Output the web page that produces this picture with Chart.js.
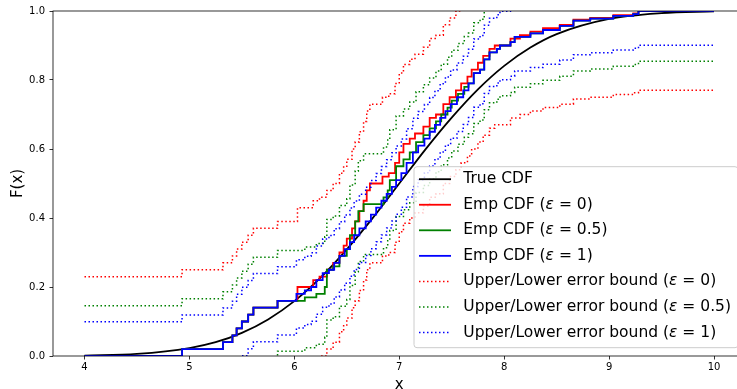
<!DOCTYPE html>
<html>
<head>
<meta charset="utf-8">
<title>Empirical CDF with error bounds</title>
<script src="https://cdn.jsdelivr.net/npm/chart.js"></script>
<style>
    html, body { margin: 0; padding: 0; overflow: hidden; background: #fff; }
    .chartBox { position: absolute; left: 0; top: 0; width: 760px; height: 400px; }
</style>
</head>
<body>
<div class="chartBox"><canvas id="cdfChart"></canvas></div>

<script type="text/javascript" charset="utf-8">

    var FONT = '"DejaVu Sans", "Liberation Sans", sans-serif';

    // axis ticks
    var xTicks = [4, 5, 6, 7, 8, 9, 10];
    var yTicks = [0, 0.2, 0.4, 0.6, 0.8, 1.0];

    // true CDF
    var trueX = [4, 4.5, 5, 5.25, 5.5, 5.75, 6, 6.25, 6.5, 6.75, 7, 7.25, 7.5, 7.75, 8, 8.25, 8.5, 9, 9.5, 10];
    var trueY = [0.001, 0.006, 0.023, 0.040, 0.067, 0.106, 0.159, 0.227, 0.309, 0.401, 0.5, 0.599, 0.691, 0.773, 0.841, 0.894, 0.933, 0.977, 0.994, 0.999];

    // empirical CDFs: x of each jump and level right after it
    var emp0X = [4, 4.93, 5.32, 5.41, 5.45, 5.50, 5.56, 5.61, 5.84, 6.03, 6.18, 6.24, 6.31, 6.37, 6.43, 6.47, 6.50, 6.55, 6.58, 6.62, 6.66, 6.69, 6.72, 6.84, 6.90, 6.96, 7.00, 7.04, 7.10, 7.15, 7.23, 7.29, 7.35, 7.42, 7.48, 7.54, 7.59, 7.65, 7.69, 7.75, 7.80, 7.86, 7.91, 8.06, 8.15, 8.25, 8.37, 8.53, 8.66, 8.82, 9.04, 9.23, 9.28, 10];
    var emp0Y = [0, 0.02, 0.04, 0.06, 0.08, 0.10, 0.12, 0.14, 0.16, 0.20, 0.22, 0.23, 0.25, 0.27, 0.30, 0.32, 0.34, 0.37, 0.39, 0.42, 0.45, 0.48, 0.50, 0.52, 0.53, 0.56, 0.59, 0.615, 0.63, 0.645, 0.665, 0.69, 0.70, 0.73, 0.75, 0.77, 0.79, 0.81, 0.83, 0.85, 0.87, 0.89, 0.90, 0.92, 0.93, 0.94, 0.95, 0.96, 0.975, 0.98, 0.988, 0.993, 1.0, 1.0];

    var emp05X = [4, 4.93, 5.32, 5.41, 5.45, 5.50, 5.56, 5.61, 5.84, 6.10, 6.21, 6.29, 6.31, 6.37, 6.43, 6.50, 6.53, 6.58, 6.61, 6.66, 6.85, 6.89, 6.91, 6.97, 7.04, 7.10, 7.16, 7.23, 7.29, 7.35, 7.40, 7.46, 7.50, 7.56, 7.62, 7.66, 7.71, 7.77, 7.81, 7.86, 7.93, 7.96, 8.06, 8.10, 8.25, 8.37, 8.53, 8.66, 8.82, 9.04, 9.23, 9.28, 10];
    var emp05Y = [0, 0.02, 0.04, 0.06, 0.08, 0.10, 0.12, 0.14, 0.16, 0.17, 0.18, 0.20, 0.25, 0.26, 0.29, 0.31, 0.35, 0.39, 0.42, 0.44, 0.46, 0.48, 0.51, 0.55, 0.57, 0.59, 0.62, 0.64, 0.66, 0.68, 0.70, 0.72, 0.74, 0.76, 0.78, 0.79, 0.82, 0.83, 0.86, 0.88, 0.89, 0.90, 0.91, 0.925, 0.935, 0.945, 0.957, 0.972, 0.978, 0.986, 0.991, 1.0, 1.0];

    var emp1X = [4, 4.93, 5.32, 5.41, 5.45, 5.50, 5.56, 5.61, 5.84, 6.02, 6.10, 6.16, 6.21, 6.27, 6.33, 6.38, 6.43, 6.48, 6.53, 6.57, 6.62, 6.68, 6.73, 6.78, 6.83, 6.88, 6.93, 6.97, 7.02, 7.07, 7.13, 7.18, 7.24, 7.29, 7.34, 7.39, 7.44, 7.49, 7.55, 7.61, 7.66, 7.71, 7.77, 7.81, 7.86, 7.93, 7.96, 8.06, 8.10, 8.25, 8.37, 8.53, 8.66, 8.82, 9.04, 9.23, 9.28, 10];
    var emp1Y = [0, 0.02, 0.04, 0.06, 0.08, 0.10, 0.12, 0.14, 0.16, 0.18, 0.19, 0.20, 0.22, 0.24, 0.25, 0.27, 0.29, 0.31, 0.33, 0.35, 0.37, 0.39, 0.41, 0.43, 0.45, 0.47, 0.49, 0.51, 0.53, 0.56, 0.59, 0.61, 0.63, 0.65, 0.67, 0.69, 0.71, 0.73, 0.75, 0.77, 0.79, 0.82, 0.83, 0.86, 0.88, 0.89, 0.90, 0.91, 0.925, 0.935, 0.945, 0.957, 0.972, 0.978, 0.986, 0.991, 1.0, 1.0];

    // half width of the error band (read at the flat ends), per epsilon
    var bandWidth = [0.23, 0.146, 0.099];
    var epsNames = ['0', '0.5', '1'];
    var epsColors = ['red', 'green', 'blue'];

    function toPoints(xs, ys) {
        return xs.map(function (x, i) { return { x: x, y: ys[i] }; });
    }

    // band edge = emp CDF shifted by the band width (runs off the axes past 0 / 1)
    function bandPoints(xs, ys, d, sign) {
        return xs.map(function (x, i) { return { x: x, y: ys[i] + sign * d }; });
    }

    var empX = [emp0X, emp05X, emp1X];
    var empY = [emp0Y, emp05Y, emp1Y];

    var datasets = [{
        label: 'True CDF',
        data: toPoints(trueX, trueY),
        borderColor: 'black',
        cubicInterpolationMode: 'monotone',
        inLegend: true, legendIndex: 0, order: 20
    }];

    for (var i = 0; i < 3; i++) {
        datasets.push({
            label: 'Emp CDF (ε = ' + epsNames[i] + ')',
            data: toPoints(empX[i], empY[i]),
            borderColor: epsColors[i],
            stepped: 'before',
            inLegend: true, legendIndex: 1 + i, order: 19 - i
        });
    }
    for (var i = 0; i < 3; i++) {
        datasets.push({
            label: 'Upper/Lower error bound (ε = ' + epsNames[i] + ')',
            data: bandPoints(empX[i], empY[i], bandWidth[i], 1),
            borderColor: epsColors[i],
            borderWidth: 1.5,
            borderDash: [1.5, 2.5],
            stepped: 'before',
            inLegend: true, legendIndex: 4 + i, order: 10 - 2 * i
        });
        datasets.push({
            label: 'lower ' + epsNames[i],
            data: bandPoints(empX[i], empY[i], bandWidth[i], -1),
            borderColor: epsColors[i],
            borderWidth: 1.5,
            borderDash: [1.5, 2.5],
            stepped: 'before',
            inLegend: false, order: 9 - 2 * i
        });
    }

    // spines drawn over the lines, like matplotlib
    var framePlugin = {
        id: 'frame',
        afterDatasetsDraw: function (chart) {
            var a = chart.chartArea, ctx = chart.ctx;
            ctx.save();
            ctx.strokeStyle = '#000';
            ctx.lineWidth = 0.8;
            ctx.setLineDash([]);
            ctx.strokeRect(a.left, a.top, a.right - a.left, a.bottom - a.top);
            ctx.restore();
        }
    };

    // legend box in the lower right corner of the axes
    var legendPlugin = {
        id: 'cornerLegend',
        afterDraw: function (chart) {
            var ctx = chart.ctx, a = chart.chartArea;
            var items = chart.data.datasets.filter(function (d) { return d.inLegend; })
                .sort(function (p, q) { return p.legendIndex - q.legendIndex; });
            var w = 324, h = 181, r = 3;
            var right = a.right - 7.5, bottom = a.bottom - 8.3;
            var left = right - w, top = bottom - h;

            ctx.save();
            ctx.beginPath();
            ctx.moveTo(left + r, top);
            ctx.lineTo(right - r, top);
            ctx.arcTo(right, top, right, top + r, r);
            ctx.lineTo(right, bottom - r);
            ctx.arcTo(right, bottom, right - r, bottom, r);
            ctx.lineTo(left + r, bottom);
            ctx.arcTo(left, bottom, left, bottom - r, r);
            ctx.lineTo(left, top + r);
            ctx.arcTo(left, top, left + r, top, r);
            ctx.closePath();
            ctx.fillStyle = 'rgba(255,255,255,0.8)';
            ctx.fill();
            ctx.strokeStyle = '#cccccc';
            ctx.lineWidth = 1;
            ctx.stroke();

            items.forEach(function (d, k) {
                var y = top + 12.5 + k * 25.55;
                ctx.beginPath();
                ctx.setLineDash(d.borderDash || []);
                ctx.strokeStyle = d.borderColor;
                ctx.lineWidth = d.borderWidth || 1.8;
                ctx.moveTo(left + 5, y);
                ctx.lineTo(left + 37, y);
                ctx.stroke();
                ctx.setLineDash([]);

                ctx.fillStyle = '#000';
                ctx.textBaseline = 'middle';
                ctx.textAlign = 'left';
                var parts = d.label.split('ε');
                var tx = left + 49.3;
                parts.forEach(function (p, j) {
                    if (j > 0) {
                        ctx.font = 'italic 15.5px ' + FONT;
                        ctx.fillText('ε', tx, y);
                        tx += ctx.measureText('ε').width;
                    }
                    ctx.font = '15.5px ' + FONT;
                    ctx.fillText(p, tx, y);
                    tx += ctx.measureText(p).width;
                });
            });
            ctx.restore();
        }
    };

    var tickGrid = {
        display: true,
        drawOnChartArea: false,
        drawTicks: true,
        tickLength: 3.5,
        tickWidth: 0.8,
        tickColor: '#000'
    };

    new Chart(document.getElementById('cdfChart'), {
        type: 'line',
        data: { datasets: datasets },
        options: {
            responsive: true,
            maintainAspectRatio: false,
            animation: false,
            layout: { padding: { top: 11, right: 14.5, left: 0, bottom: 0 } },
            datasets: { line: { clip: 0 } },
            elements: {
                point: { radius: 0 },
                line: { borderWidth: 1.8, tension: 0 }
            },
            plugins: {
                legend: { display: false },
                tooltip: { enabled: false }
            },
            scales: {
                x: {
                    type: 'linear',
                    min: 3.7,
                    max: 10.3,
                    afterBuildTicks: function (s) { s.ticks = xTicks.map(function (v) { return { value: v }; }); },
                    afterFit: function (s) { s.height = 44; },
                    grid: tickGrid,
                    border: { display: false },
                    ticks: {
                        autoSkip: false,
                        maxRotation: 0,
                        padding: 2,
                        color: '#000',
                        font: { family: FONT, size: 10 },
                        callback: function (v) { return String(v); }
                    },
                    title: {
                        display: true,
                        text: 'x',
                        color: '#000',
                        font: { family: FONT, size: 15 },
                        padding: { top: 0, bottom: 6 }
                    }
                },
                y: {
                    type: 'linear',
                    min: 0,
                    max: 1,
                    afterBuildTicks: function (s) { s.ticks = yTicks.map(function (v) { return { value: v }; }); },
                    afterFit: function (s) { s.width = 53; },
                    grid: tickGrid,
                    border: { display: false },
                    ticks: {
                        autoSkip: false,
                        padding: 4.5,
                        color: '#000',
                        font: { family: FONT, size: 10 },
                        callback: function (v) { return v.toFixed(1); }
                    },
                    title: {
                        display: true,
                        text: 'F(x)',
                        color: '#000',
                        font: { family: FONT, size: 15 },
                        padding: { top: 9, bottom: 0 }
                    }
                }
            }
        },
        plugins: [framePlugin, legendPlugin]
    });

</script>
</body>
</html>
